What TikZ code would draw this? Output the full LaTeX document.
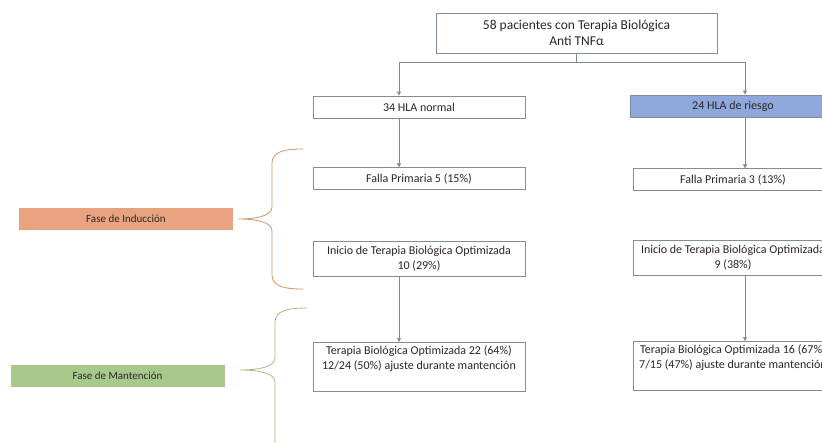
\documentclass[tikz,border=0pt]{standalone}
\usepackage{fontspec}
\setmainfont{Carlito}
\usetikzlibrary{positioning,arrows.meta}
\definecolor{borde}{RGB}{128,140,160}
\definecolor{azulriesgo}{RGB}{143,167,218}
\definecolor{naranja}{RGB}{234,163,128}
\definecolor{verde}{RGB}{168,201,140}
\definecolor{llavenaranja}{RGB}{210,150,105}
\definecolor{llaveverde}{RGB}{175,182,130}
\definecolor{gris}{RGB}{130,136,148}
\definecolor{texto}{RGB}{40,40,40}

\begin{document}
\begin{tikzpicture} [
	x=1pt, y=-1pt,
	node distance = 49pt,
	every node/.style = {
		draw=borde,
		fill=white,
		line width=0.8pt,
		text=texto,
		minimum width=212pt,
		minimum height=22pt,
		align=center,
		font=\fontsize{12}{15}\selectfont
	},
	fase/.style = {draw=none, minimum width=214pt, font=\fontsize{11}{14}\selectfont},
	flecha/.style = {draw=gris, line width=0.6pt, -{Triangle[length=4pt,width=4pt]}},
	llave/.style = {line width=0.8pt}
]

\useasboundingbox (0,0) rectangle (822,442);
\clip (0,0) rectangle (822,442);

\node (total) [minimum width=281pt, minimum height=40pt,
	font=\fontsize{13.5}{16}\selectfont] at (576.5,33) {58 pacientes con Terapia Biológica\\Anti TNFα};

\node (normal) at (419,107) {34 HLA normal};
\node (riesgo) [fill=azulriesgo, minimum width=206pt] at (733,106) {24 HLA de riesgo};

\node (falla5) [below=49pt of normal] {Falla Primaria 5 (15\%)};
\node (inicio10) [below=51pt of falla5, minimum height=35pt] {Inicio de Terapia Biológica Optimizada\\10 (29\%)};
\node (opt22) [below=65pt of inicio10, text depth=19pt] {Terapia Biológica Optimizada 22 (64\%)\\12/24 (50\%) ajuste durante mantención};

\node (falla3) [below=51pt of riesgo, minimum width=200pt] {Falla Primaria 3 (13\%)};
\node (inicio9) [below=49pt of falla3, minimum width=200pt, minimum height=35pt] {Inicio de Terapia Biológica Optimizada\\9 (38\%)};
\node (opt16) [below=65pt of inicio9, minimum width=200pt, text depth=19pt] {Terapia Biológica Optimizada 16 (67\%)\\7/15 (47\%) ajuste durante mantención};

\node (induccion) [fase, fill=naranja] at (126,219) {Fase de Inducción};
\node (mantencion) [fase, fill=verde] at (117.5,376) {Fase de Mantención};

\coordinate (bifL) at (399,62);
\coordinate (bifR) at (745,62);

\draw [draw=gris, line width=0.6pt] (total.south) -- (total.south |- bifL);
\draw [draw=gris, line width=0.6pt] (bifL) -- (bifR);
\draw [flecha] (bifL) -- (bifL |- normal.north);
\draw [flecha] (bifR) -- (bifR |- riesgo.north);
\draw [flecha] (bifL |- normal.south) -- (bifL |- falla5.north);
\draw [flecha] (bifL |- inicio10.south) -- (bifL |- opt22.north);
\draw [flecha] (bifR |- riesgo.south) -- (bifR |- falla3.north);
\draw [flecha] (bifR |- inicio9.south) -- (bifR |- opt16.north);

% llaves de las fases
\draw [llave, draw=llavenaranja] (303,149) .. controls (286,149) and (272,151) .. (272,163)
	-- (272,207) .. controls (272,216) and (256,219) .. (238,219)
	.. controls (256,219) and (272,222) .. (272,231)
	-- (272,275) .. controls (272,287) and (286,289) .. (303,289);
\draw [llave, draw=llaveverde] (307,308) .. controls (290,308) and (275,310) .. (275,322)
	-- (275,358) .. controls (275,367) and (258,370) .. (240,370)
	.. controls (258,370) and (275,373) .. (275,382)
	-- (275,450);

\end{tikzpicture}
\end{document}
